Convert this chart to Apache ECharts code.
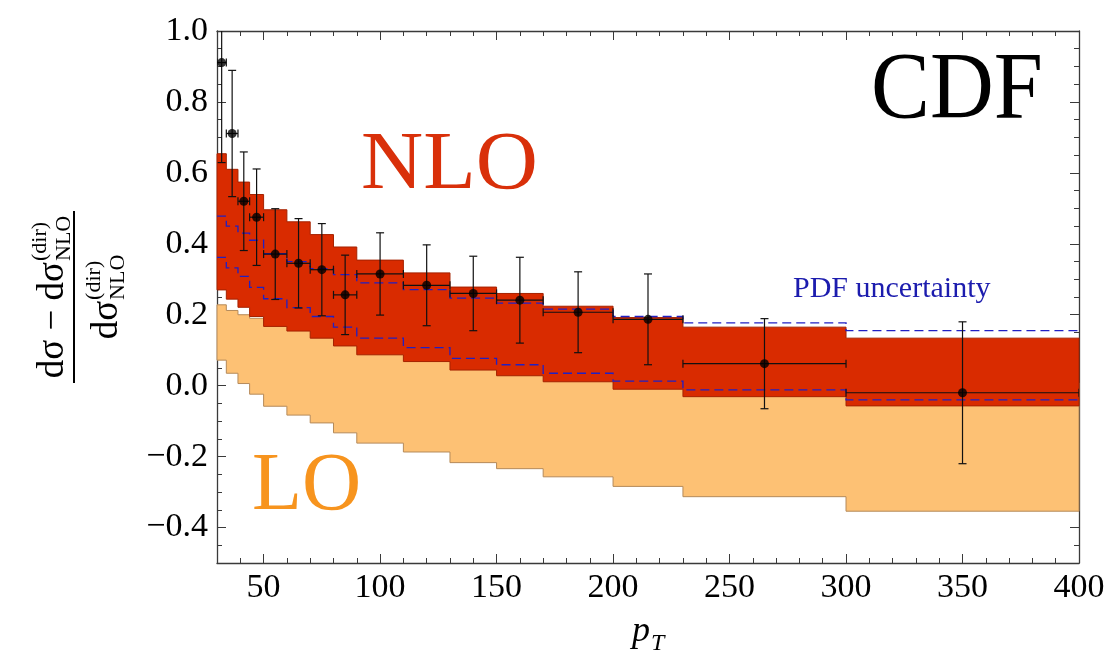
<!DOCTYPE html>
<html>
<head>
<meta charset="utf-8">
<script src="https://cdn.jsdelivr.net/npm/echarts@6/dist/echarts.min.js"></script>
<style>
  html, body { margin: 0; padding: 0; background: #fff; }
  #chart { width: 1110px; height: 654px; }
</style>
</head>
<body>
<div id="chart"></div>
<script>
// pT bins
const binEdges = [30, 34, 39, 44, 50, 60, 70, 80, 90, 110, 130, 150, 170, 200, 230, 300, 400];

// NLO scale band (upper / lower edge per bin)
const nloHigh = [0.654, 0.610, 0.574, 0.539, 0.496, 0.462, 0.426, 0.391, 0.354, 0.318, 0.278, 0.260, 0.224, 0.192, 0.165, 0.134];
const nloLow  = [0.270, 0.244, 0.221, 0.195, 0.167, 0.154, 0.134, 0.112, 0.087, 0.068, 0.044, 0.028, 0.011, -0.010, -0.031, -0.057];

// LO band
const loHigh = [0.228, 0.212, 0.200, 0.190, 0.178, 0.168, 0.156, 0.144, 0.128, 0.112, 0.096, 0.084, 0.068, 0.050, 0.030, 0.008];
const loLow  = [0.072, 0.035, 0.006, -0.024, -0.058, -0.083, -0.105, -0.133, -0.162, -0.187, -0.217, -0.234, -0.257, -0.284, -0.313, -0.354];

// PDF uncertainty (dashed)
const pdfHigh = [0.478, 0.450, 0.430, 0.410, 0.372, 0.350, 0.330, 0.313, 0.290, 0.271, 0.247, 0.233, 0.216, 0.195, 0.177, 0.155];
const pdfLow  = [0.362, 0.332, 0.308, 0.277, 0.245, 0.220, 0.195, 0.165, 0.134, 0.107, 0.077, 0.059, 0.035, 0.013, -0.012, -0.040];

// CDF points
const dataPt  = [32, 36.5, 41.5, 47, 55, 65, 75, 85, 100, 120, 140, 160, 185, 215, 265, 350];
const dataVal = [0.911, 0.711, 0.520, 0.475, 0.371, 0.345, 0.327, 0.256, 0.315, 0.283, 0.260, 0.241, 0.207, 0.187, 0.062, -0.020];
const dataErr = [0.282, 0.178, 0.139, 0.136, 0.128, 0.126, 0.130, 0.112, 0.116, 0.114, 0.105, 0.121, 0.114, 0.128, 0.127, 0.200];

const xTicks = [50, 100, 150, 200, 250, 300, 350, 400];
const yTicks = [-0.4, -0.2, 0.0, 0.2, 0.4, 0.6, 0.8, 1.0];

const xMinor = [];
for (let v = 30; v <= 400; v += 10) xMinor.push(v);
const yMinor = [];
for (let k = -10; k <= 20; k++) yMinor.push(+(k * 0.05).toFixed(2));

const FONT = '"Liberation Serif", "DejaVu Serif", serif';
const AXIS_COLOR = '#3a3a3a';

const chart = echarts.init(document.getElementById('chart'), null, { renderer: 'canvas' });

// text width helper for the stacked sub/superscripts
const measureCtx = document.createElement('canvas').getContext('2d');
const textW = (s, size, style) => {
  measureCtx.font = (style || '') + ' ' + size + 'px ' + FONT;
  return measureCtx.measureText(s).width;
};

const stepPoints = (api, vals) => {
  const pts = [];
  for (let i = 0; i < vals.length; i++) {
    pts.push(api.coord([binEdges[i], vals[i]]));
    pts.push(api.coord([binEdges[i + 1], vals[i]]));
  }
  return pts;
};

const bandSeries = (hi, lo, fill, stroke, z) => ({
  type: 'custom',
  z: z,
  silent: true,
  data: [[binEdges[0], hi[0]]],
  renderItem: (params, api) => {
    const top = stepPoints(api, hi);
    const bottom = stepPoints(api, lo).reverse();
    return {
      type: 'polygon',
      shape: { points: top.concat(bottom) },
      style: { fill: fill, stroke: stroke, lineWidth: 1 }
    };
  }
});

const dashedSeries = (vals) => ({
  type: 'custom',
  z: 4,
  silent: true,
  data: [[binEdges[0], vals[0]]],
  renderItem: (params, api) => ({
    type: 'polyline',
    shape: { points: stepPoints(api, vals) },
    style: { fill: null, stroke: '#2020c4', lineWidth: 1.3, lineDash: [9, 5] }
  })
});

// fraction-style y axis name, built in a rotated group
const mainSize = 37, scrSize = 22;
const fracPart = (main, baseY) => {
  const wMain = textW(main, mainSize);
  const wScr = Math.max(textW('(dir)', scrSize), textW('NLO', scrSize));
  const x0 = -(wMain + 1 + wScr) / 2;
  const mk = (text, x, base, size) => ({
    type: 'text',
    x: x,
    y: base - 0.3 * size,
    style: { text: text, font: size + 'px ' + FONT, fill: '#000', align: 'left', verticalAlign: 'middle' }
  });
  return [
    mk(main, x0, baseY, mainSize),
    mk('(dir)', x0 + wMain + 1, baseY - 17, scrSize),
    mk('NLO', x0 + wMain + 1, baseY + 7, scrSize)
  ];
};

const axisBase = {
  min: 30, max: 400, type: 'value',
  splitLine: { show: false }
};

const option = {
  animation: false,
  backgroundColor: '#fff',
  grid: { left: 217, right: 31, top: 31, bottom: 91 },
  xAxis: [
    Object.assign({}, axisBase, {
      position: 'bottom',
      axisLine: { show: true, onZero: false, lineStyle: { color: AXIS_COLOR, width: 1.3 } },
      axisTick: { inside: true, length: 9, customValues: xTicks, lineStyle: { color: AXIS_COLOR } },
      axisLabel: { customValues: xTicks, margin: 8, fontSize: 34, fontFamily: FONT, color: '#000' }
    }),
    Object.assign({}, axisBase, {
      position: 'bottom',
      axisLine: { show: false, onZero: false },
      axisTick: { inside: true, length: 5, customValues: xMinor, lineStyle: { color: AXIS_COLOR } },
      axisLabel: { show: false }
    }),
    Object.assign({}, axisBase, {
      position: 'top',
      axisLine: { show: true, onZero: false, lineStyle: { color: AXIS_COLOR, width: 1.3 } },
      axisTick: { inside: true, length: 9, customValues: xTicks, lineStyle: { color: AXIS_COLOR } },
      axisLabel: { show: false }
    }),
    Object.assign({}, axisBase, {
      position: 'top',
      axisLine: { show: false, onZero: false },
      axisTick: { inside: true, length: 5, customValues: xMinor, lineStyle: { color: AXIS_COLOR } },
      axisLabel: { show: false }
    })
  ],
  yAxis: [
    {
      type: 'value', min: -0.5, max: 1.0, position: 'left',
      splitLine: { show: false },
      axisLine: { show: true, onZero: false, lineStyle: { color: AXIS_COLOR, width: 1.3 } },
      axisTick: { show: true, inside: true, length: 9, customValues: yTicks, lineStyle: { color: AXIS_COLOR } },
      axisLabel: {
        customValues: yTicks, margin: 9, fontSize: 34, fontFamily: FONT, color: '#000',
        formatter: (v) => (v < -1e-9 ? '\u2212' : '') + Math.abs(v).toFixed(1)
      }
    },
    {
      type: 'value', min: -0.5, max: 1.0, position: 'left',
      splitLine: { show: false },
      axisLine: { show: false, onZero: false },
      axisTick: { show: true, inside: true, length: 5, customValues: yMinor, lineStyle: { color: AXIS_COLOR } },
      axisLabel: { show: false }
    },
    {
      type: 'value', min: -0.5, max: 1.0, position: 'right',
      splitLine: { show: false },
      axisLine: { show: true, onZero: false, lineStyle: { color: AXIS_COLOR, width: 1.3 } },
      axisTick: { show: true, inside: true, length: 9, customValues: yTicks, lineStyle: { color: AXIS_COLOR } },
      axisLabel: { show: false }
    },
    {
      type: 'value', min: -0.5, max: 1.0, position: 'right',
      splitLine: { show: false },
      axisLine: { show: false, onZero: false },
      axisTick: { show: true, inside: true, length: 5, customValues: yMinor, lineStyle: { color: AXIS_COLOR } },
      axisLabel: { show: false }
    }
  ],
  series: [
    bandSeries(loHigh, loLow, '#fdc174', '#b58a5a', 1),
    bandSeries(nloHigh, nloLow, '#d92b00', '#a52200', 2),
    dashedSeries(pdfHigh),
    dashedSeries(pdfLow),
    {
      type: 'custom',
      z: 5,
      clip: true,
      silent: true,
      data: dataPt.map((x, i) => [x, dataVal[i], dataErr[i], binEdges[i], binEdges[i + 1]]),
      renderItem: (params, api) => {
        const x = api.value(0), y = api.value(1), e = api.value(2);
        const top = api.coord([x, y + e]);
        const bot = api.coord([x, y - e]);
        const l = api.coord([api.value(3), y]);
        const r = api.coord([api.value(4), y]);
        const cap = 4;
        const st = { stroke: '#111', lineWidth: 1.2 };
        const seg = (x1, y1, x2, y2) => ({ type: 'line', shape: { x1, y1, x2, y2 }, style: st });
        return {
          type: 'group',
          children: [
            seg(top[0], top[1], bot[0], bot[1]),
            seg(top[0] - cap, top[1], top[0] + cap, top[1]),
            seg(bot[0] - cap, bot[1], bot[0] + cap, bot[1]),
            seg(l[0], l[1], r[0], r[1]),
            seg(l[0], l[1] - cap, l[0], l[1] + cap),
            seg(r[0], r[1] - cap, r[0], r[1] + cap)
          ]
        };
      }
    },
    {
      type: 'scatter',
      z: 6,
      symbol: 'circle',
      symbolSize: 9,
      itemStyle: { color: '#000' },
      data: dataPt.map((x, i) => [x, dataVal[i]])
    }
  ],
  graphic: [
    {
      type: 'text', x: 871, y: 45, scaleX: 0.92,
      style: { text: 'CDF', font: '96px ' + FONT, fill: '#000' }
    },
    {
      type: 'text', x: 361, y: 125, scaleX: 1.05,
      style: { text: 'NLO', font: '82px ' + FONT, fill: '#d9300a' }
    },
    {
      type: 'text', x: 252, y: 446,
      style: { text: 'LO', font: '82px ' + FONT, fill: '#f7941e' }
    },
    {
      type: 'text', x: 793, y: 274,
      style: { text: 'PDF uncertainty', font: '30px ' + FONT, fill: '#1c1cae' }
    },
    {
      type: 'group', x: 74, y: 297, rotation: Math.PI / 2,
      children: [
        { type: 'line', shape: { x1: -86, y1: 0, x2: 86, y2: 0 }, style: { stroke: '#000', lineWidth: 2 } }
      ].concat(fracPart('d\u03c3 \u2212 d\u03c3', -10), fracPart('d\u03c3', 44))
    },
    {
      type: 'text', x: 632, y: 614,
      style: { text: 'p', font: 'italic 36px ' + FONT, fill: '#000' }
    },
    {
      type: 'text', x: 651, y: 632,
      style: { text: 'T', font: 'italic 24px ' + FONT, fill: '#000' }
    }
  ]
};

chart.setOption(option);
</script>
</body>
</html>
